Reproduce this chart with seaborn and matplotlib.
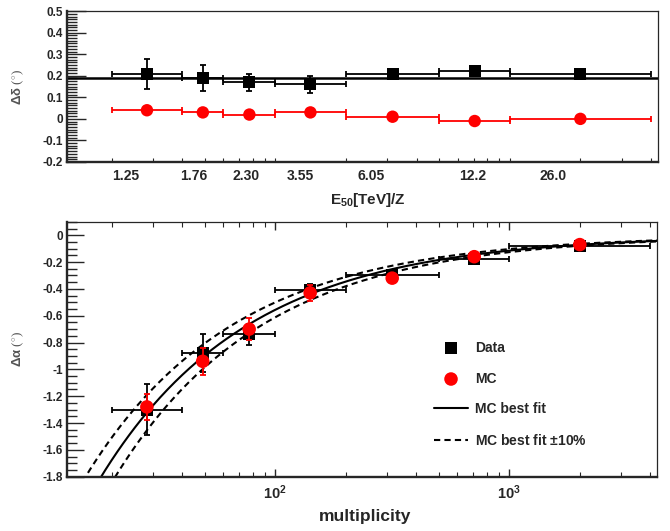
import numpy as np
import matplotlib
matplotlib.use('Agg')
import matplotlib.pyplot as plt
import seaborn as sns
from matplotlib.ticker import LogLocator, NullFormatter, FixedLocator, FixedFormatter, MultipleLocator

# ======================================================================
# data
# ======================================================================
mult_center = [28.3, 49, 77.4, 141, 316, 708, 2000]
bin_edges = [20, 40, 60, 100, 200, 500, 1000, 4000]
e50_labels = ['1.25', '1.76', '2.30', '3.55', '6.05', '12.2', '26.0']
e50_label_pos = [23, 44.7, 75, 128, 255, 695, 1528]

# top panel: delta delta
ddelta_data = [0.21, 0.19, 0.17, 0.16, 0.21, 0.22, 0.21]
ddelta_data_err = [0.07, 0.06, 0.04, 0.04, 0.01, 0.01, 0.01]
ddelta_mc = [0.04, 0.03, 0.02, 0.03, 0.01, -0.01, 0.0]
ddelta_mc_err = [0.005, 0.005, 0.005, 0.005, 0.005, 0.005, 0.005]
ddelta_const = 0.19

# bottom panel: delta alpha
dalpha_data = [-1.30, -0.88, -0.74, -0.41, -0.30, -0.18, -0.08]
dalpha_data_err = [0.19, 0.14, 0.08, 0.045, 0.02, 0.02, 0.01]
dalpha_mc = [-1.28, -0.94, -0.70, -0.43, -0.32, -0.16, -0.07]
dalpha_mc_err = [0.10, 0.10, 0.08, 0.06, 0.02, 0.02, 0.01]

# MC best fit  dalpha = -A * mult^-B
fit_A = 13.1
fit_B = 0.686
fit_band = 0.10

sns.set_style('ticks')
plt.rcParams['font.family'] = ['Liberation Sans', 'DejaVu Sans']
plt.rcParams['font.weight'] = 'bold'
plt.rcParams['axes.labelweight'] = 'bold'
plt.rcParams['mathtext.fontset'] = 'custom'
plt.rcParams['mathtext.rm'] = 'Liberation Sans:bold'
plt.rcParams['mathtext.bf'] = 'Liberation Sans:bold'
plt.rcParams['mathtext.it'] = 'Liberation Sans:bold'

xc = np.array(mult_center)
edges = np.array(bin_edges)
xerr = [xc - edges[:-1], edges[1:] - xc]

fig = plt.figure(figsize=(6.7, 5.31), dpi=100)
ax1 = fig.add_axes([0.100, 0.695, 0.882, 0.284])
ax2 = fig.add_axes([0.100, 0.1023, 0.881, 0.480])

for ax in (ax1, ax2):
    ax.set_xscale('log')
    ax.set_xlim(12.9, 4285)
    for s in ['left', 'bottom']:
        ax.spines[s].set_linewidth(1.7)
    for s in ['top', 'right']:
        ax.spines[s].set_linewidth(0.9)
    ax.grid(False)

# ==========
# top panel
ax1.axhline(ddelta_const, color='black', lw=1.8, zorder=2)
ax1.errorbar(xc, ddelta_data, xerr=xerr, yerr=ddelta_data_err, fmt='none',
             ecolor='black', elinewidth=1.3, capsize=2, capthick=1.3, zorder=3)
ax1.errorbar(xc, ddelta_mc, xerr=xerr, yerr=ddelta_mc_err, fmt='none',
             ecolor='red', elinewidth=1.3, capsize=2, capthick=1.3, zorder=3)
sns.scatterplot(x=mult_center, y=ddelta_data, marker='s', s=75, color='black',
                edgecolor='none', ax=ax1, zorder=4)
sns.scatterplot(x=mult_center, y=ddelta_mc, marker='o', s=80, color='red',
                edgecolor='none', ax=ax1, zorder=4)
ax1.set_ylim(-0.2, 0.5)
ax1.yaxis.set_major_locator(MultipleLocator(0.1))
ax1.yaxis.set_minor_locator(MultipleLocator(0.0125))
ax1.set_yticklabels(['%g' % v if abs(v) > 1e-9 else '0' for v in ax1.get_yticks()])
ax1.xaxis.set_major_locator(FixedLocator(e50_label_pos))
ax1.xaxis.set_major_formatter(FixedFormatter(e50_labels))
ax1.xaxis.set_minor_locator(LogLocator(base=10, subs=np.arange(1, 10)))
ax1.xaxis.set_minor_formatter(NullFormatter())
ax1.tick_params(axis='x', which='major', length=0, pad=5, labelsize=10)
ax1.tick_params(axis='x', which='minor', direction='in', length=3, width=0.8)
ax1.tick_params(axis='y', which='major', direction='in', length=14, width=1.0,
                labelsize=8.5, pad=3)
ax1.tick_params(axis='y', which='minor', direction='in', length=7, width=1.0)
ax1.set_xlabel(r'$\mathbf{E_{50}}$[TeV]/Z', fontsize=11)
ax1.xaxis.set_label_coords(0.51, -0.19)
ax1.set_ylabel(r'$\Delta\delta$ ($^{\circ}$)', fontsize=9.5, fontweight='normal',
               color='#555555')
ax1.yaxis.label.set_family(['Liberation Serif', 'DejaVu Serif'])
ax1.yaxis.set_label_coords(-0.068, 0.5)

# ==========
# bottom panel
x_fit = np.logspace(np.log10(12.9), np.log10(4285), 400)
y_fit = -fit_A * x_fit ** (-fit_B)
ax2.errorbar(xc, dalpha_data, xerr=xerr, yerr=dalpha_data_err, fmt='none',
             ecolor='black', elinewidth=1.3, capsize=2, capthick=1.3, zorder=3)
ax2.errorbar(xc, dalpha_mc, yerr=dalpha_mc_err, fmt='none',
             ecolor='red', elinewidth=1.3, capsize=2, capthick=1.3, zorder=5)
sns.scatterplot(x=mult_center, y=dalpha_data, marker='s', s=75, color='black',
                edgecolor='none', ax=ax2, zorder=4, label='Data')
sns.scatterplot(x=mult_center, y=dalpha_mc, marker='o', s=95, color='red',
                edgecolor='none', ax=ax2, zorder=6, label='MC')
sns.lineplot(x=x_fit, y=y_fit, color='black', lw=1.5, ax=ax2, zorder=2,
             label='MC best fit')
sns.lineplot(x=x_fit, y=y_fit * (1 + fit_band), color='black', lw=1.5,
             linestyle=(0, (3, 2)), ax=ax2, zorder=2,
             label=r'MC best fit $\pm$10%')
sns.lineplot(x=x_fit, y=y_fit * (1 - fit_band), color='black', lw=1.5,
             linestyle=(0, (3, 2)), ax=ax2, zorder=2)
ax2.set_ylim(-1.8, 0.1)
ax2.yaxis.set_minor_locator(MultipleLocator(0.05))
ax2.set_yticks(np.arange(-1.8, 0.01, 0.2))
ax2.set_yticklabels(['%g' % round(v, 1) if abs(v) > 1e-9 else '0' for v in np.arange(-1.8, 0.01, 0.2)])
ax2.xaxis.set_major_locator(FixedLocator([100, 1000]))
ax2.xaxis.set_major_formatter(FixedFormatter([r'$\mathbf{10^{2}}$', r'$\mathbf{10^{3}}$']))
ax2.xaxis.set_minor_locator(LogLocator(base=10, subs=np.arange(2, 10)))
ax2.xaxis.set_minor_formatter(NullFormatter())
ax2.tick_params(axis='x', which='major', direction='in', length=6, width=1.0,
                top=True, labelsize=10.5, pad=5)
ax2.tick_params(axis='x', which='minor', direction='in', length=3.5, width=0.8,
                top=True)
ax2.tick_params(axis='y', which='major', direction='in', length=12, width=1.0,
                labelsize=8.5, pad=3)
ax2.tick_params(axis='y', which='minor', direction='in', length=7, width=1.0)
ax2.set_xlabel('multiplicity', fontsize=12.5)
ax2.xaxis.set_label_coords(0.505, -0.125)
ax2.set_ylabel(r'$\Delta\alpha$ ($^{\circ}$)', fontsize=9.5, fontweight='normal',
               color='#555555')
ax2.yaxis.label.set_family(['Liberation Serif', 'DejaVu Serif'])
ax2.yaxis.set_label_coords(-0.068, 0.5)

leg = ax2.legend(loc='upper left', bbox_to_anchor=(434 / 670, 1 - 341 / 531),
                 bbox_transform=fig.transFigure, frameon=False, fontsize=10,
                 borderpad=0, borderaxespad=0, handlelength=2.45,
                 handletextpad=0.5, labelspacing=1.2)

fig.savefig('out.png', dpi=100)
